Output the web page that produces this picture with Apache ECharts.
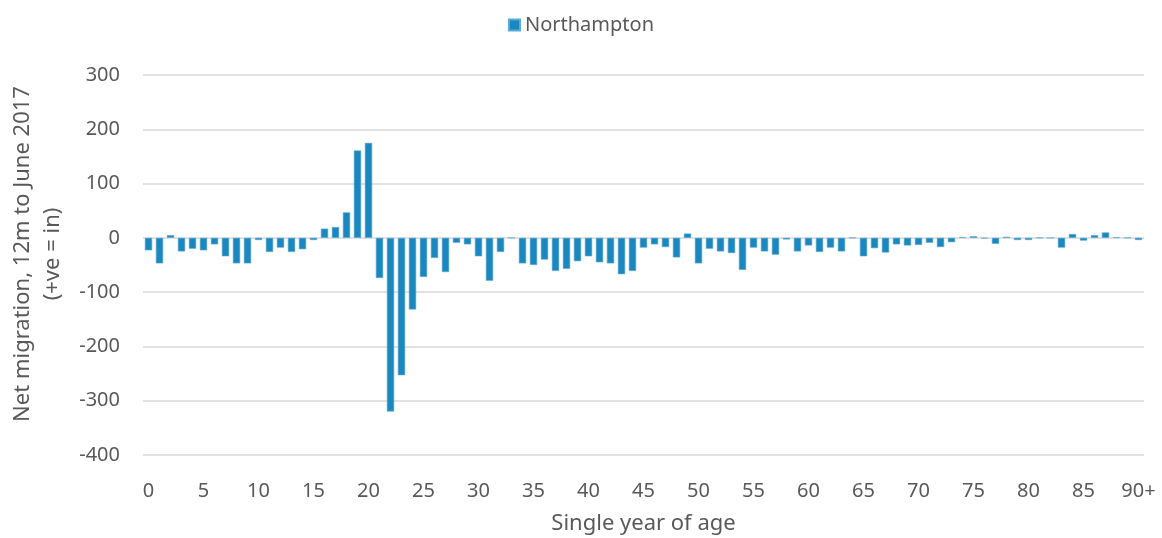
<!DOCTYPE html>
<html>
<head>
<meta charset="utf-8">
<script src="https://cdn.jsdelivr.net/npm/echarts@6/dist/echarts.min.js"></script>
<style>
  html, body { margin: 0; padding: 0; background: #fff; }
  #chart { width: 1162px; height: 538px; }
</style>
</head>
<body>
<div id="chart"></div>
<script>
// Single year of age, 0..89 then the open-ended 90+ band.
const AGES = [];
for (let a = 0; a < 90; a += 1) AGES.push(String(a));
AGES.push("90+");

// Net migration, 12 months to June 2017.
const NORTHAMPTON = [
  -23, -47, 5, -25, -20, -23, -12, -34, -47, -47,
  -4, -26, -18, -26, -21, -4, 17, 20, 47, 161,
  175, -74, -320, -253, -132, -72, -37, -63, -9, -12,
  -34, -79, -26, 0, -47, -50, -40, -61, -57, -43,
  -34, -45, -47, -67, -61, -18, -12, -17, -36, 8,
  -47, -20, -25, -28, -59, -18, -25, -31, -3, -25,
  -14, -26, -18, -25, 0, -34, -19, -27, -12, -14,
  -13, -9, -17, -8, 1, 3, -1, -11, 2, -4,
  -4, 0, 0, -18, 7, -5, 5, 10, 1, 0,
  -4,
];

const Y_MIN = -400;
const Y_MAX = 300;
const Y_STEP = 100;

const TEXT = "#595959";
const FONT = "'Noto Sans', 'Open Sans', sans-serif";

const chart = echarts.init(document.getElementById("chart"));
chart.setOption({
  animation: false,
  textStyle: { fontFamily: FONT, color: TEXT },
  legend: {
    top: 10,
    left: "center",
    icon: "rect",
    itemWidth: 11,
    itemHeight: 11,
    itemGap: 6,
    textStyle: { fontSize: 20, color: TEXT, fontFamily: FONT },
    data: ["Northampton"],
  },
  // v6 would otherwise shrink the grid to fit the rotated axis name
  grid: { left: 143, right: 18, top: 75, bottom: 83, outerBoundsMode: "none" },
  xAxis: {
    type: "category",
    data: AGES,
    name: "Single year of age",
    nameLocation: "middle",
    nameGap: 58,
    nameTextStyle: { fontSize: 22, color: TEXT },
    axisLine: { show: false, onZero: false },
    axisTick: { show: false },
    axisLabel: {
      interval: 4,
      fontSize: 20,
      color: TEXT,
      margin: 26,
    },
  },
  yAxis: {
    type: "value",
    min: Y_MIN,
    max: Y_MAX,
    interval: Y_STEP,
    name: "Net migration, 12m to June 2017\n(+ve = in)",
    nameLocation: "middle",
    nameRotate: 90,
    nameGap: 75,
    nameTextStyle: { fontSize: 22, color: TEXT, lineHeight: 30, padding: [0, 0, 0, 22] },
    axisLine: { show: false },
    axisTick: { show: false },
    axisLabel: { fontSize: 20, color: TEXT, margin: 23 },
    splitLine: { lineStyle: { color: "#d9d9d9", width: 1.5 } },
  },
  series: [
    {
      name: "Northampton",
      type: "bar",
      data: NORTHAMPTON,
      barCategoryGap: "34%",
      itemStyle: {
        color: "#1a87be",
        borderColor: "#5aaad6",
        borderWidth: 0.6,
      },
    },
  ],
});
</script>
</body>
</html>
